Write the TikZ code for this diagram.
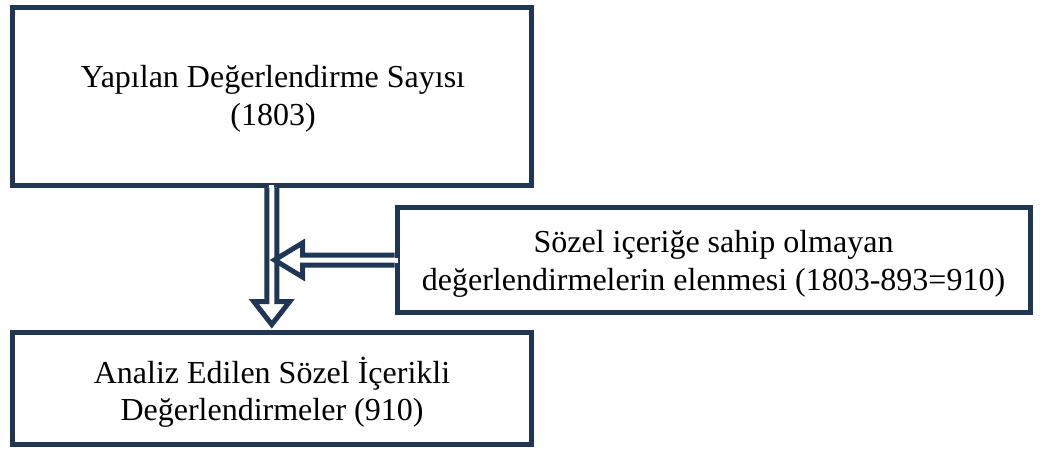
\documentclass[tikz,border=0pt]{standalone}
\usepackage{fontspec}
\setmainfont{Liberation Serif}
\usetikzlibrary{calc}
\definecolor{navy}{RGB}{31,55,85}
\begin{document}
\begin{tikzpicture}[x=1pt,y=-1pt,
  box/.style={draw=navy,line width=5pt,rectangle,inner sep=0pt,fill=white},
  txt/.style={align=center,inner sep=0pt,anchor=base,font=\fontsize{32}{37.5}\selectfont},
  hollow/.style={draw=navy,line width=5pt,fill=white,line join=miter}]
\useasboundingbox (0,0) rectangle (1040,450);
\node[box,minimum width=518.5pt,minimum height=177.5pt] (top) at (271.75,96.25) {};
\node[txt] (toptext) at (273,125) {Yapılan Değerlendirme Sayısı\\(1803)};
\node[box,minimum width=633pt,minimum height=105pt] (side) at (713.5,260) {};
\node[txt] (sidetext) at (713.5,290.2) {Sözel içeriğe sahip olmayan\\değerlendirmelerin elenmesi (1803-893=910)};
\node[box,minimum width=519pt,minimum height=112pt] (bot) at (272,388.5) {};
\node[txt] (bottext) at (272,420.8) {Analiz Edilen Sözel İçerikli\\Değerlendirmeler (910)};
% gaps in the box borders where the hollow arrows open
\fill[white] ($(top.south)+(-2.5,-3)$) rectangle ($(top.south)+(2.5,3)$);
\fill[white] ($(side.west)+(-3,-2.5)$) rectangle ($(side.west)+(3,2.5)$);
% vertical hollow arrow
\draw[hollow] ($(top.south)+(-5,0)$) -- ($(top.south)+(-5,114)$) -- ($(top.south)+(-18,114)$)
  -- ($(top.south)+(0,137)$) -- ($(top.south)+(18,114)$) -- ($(top.south)+(5,114)$)
  -- ($(top.south)+(5,0)$);
% horizontal hollow arrow
\draw[hollow] ($(side.west)+(0,-5)$) -- ($(side.west)+(-92,-5)$) -- ($(side.west)+(-92,-17)$)
  -- ($(side.west)+(-120,0)$) -- ($(side.west)+(-92,17)$) -- ($(side.west)+(-92,5)$)
  -- ($(side.west)+(0,5)$);
\end{tikzpicture}
\end{document}
